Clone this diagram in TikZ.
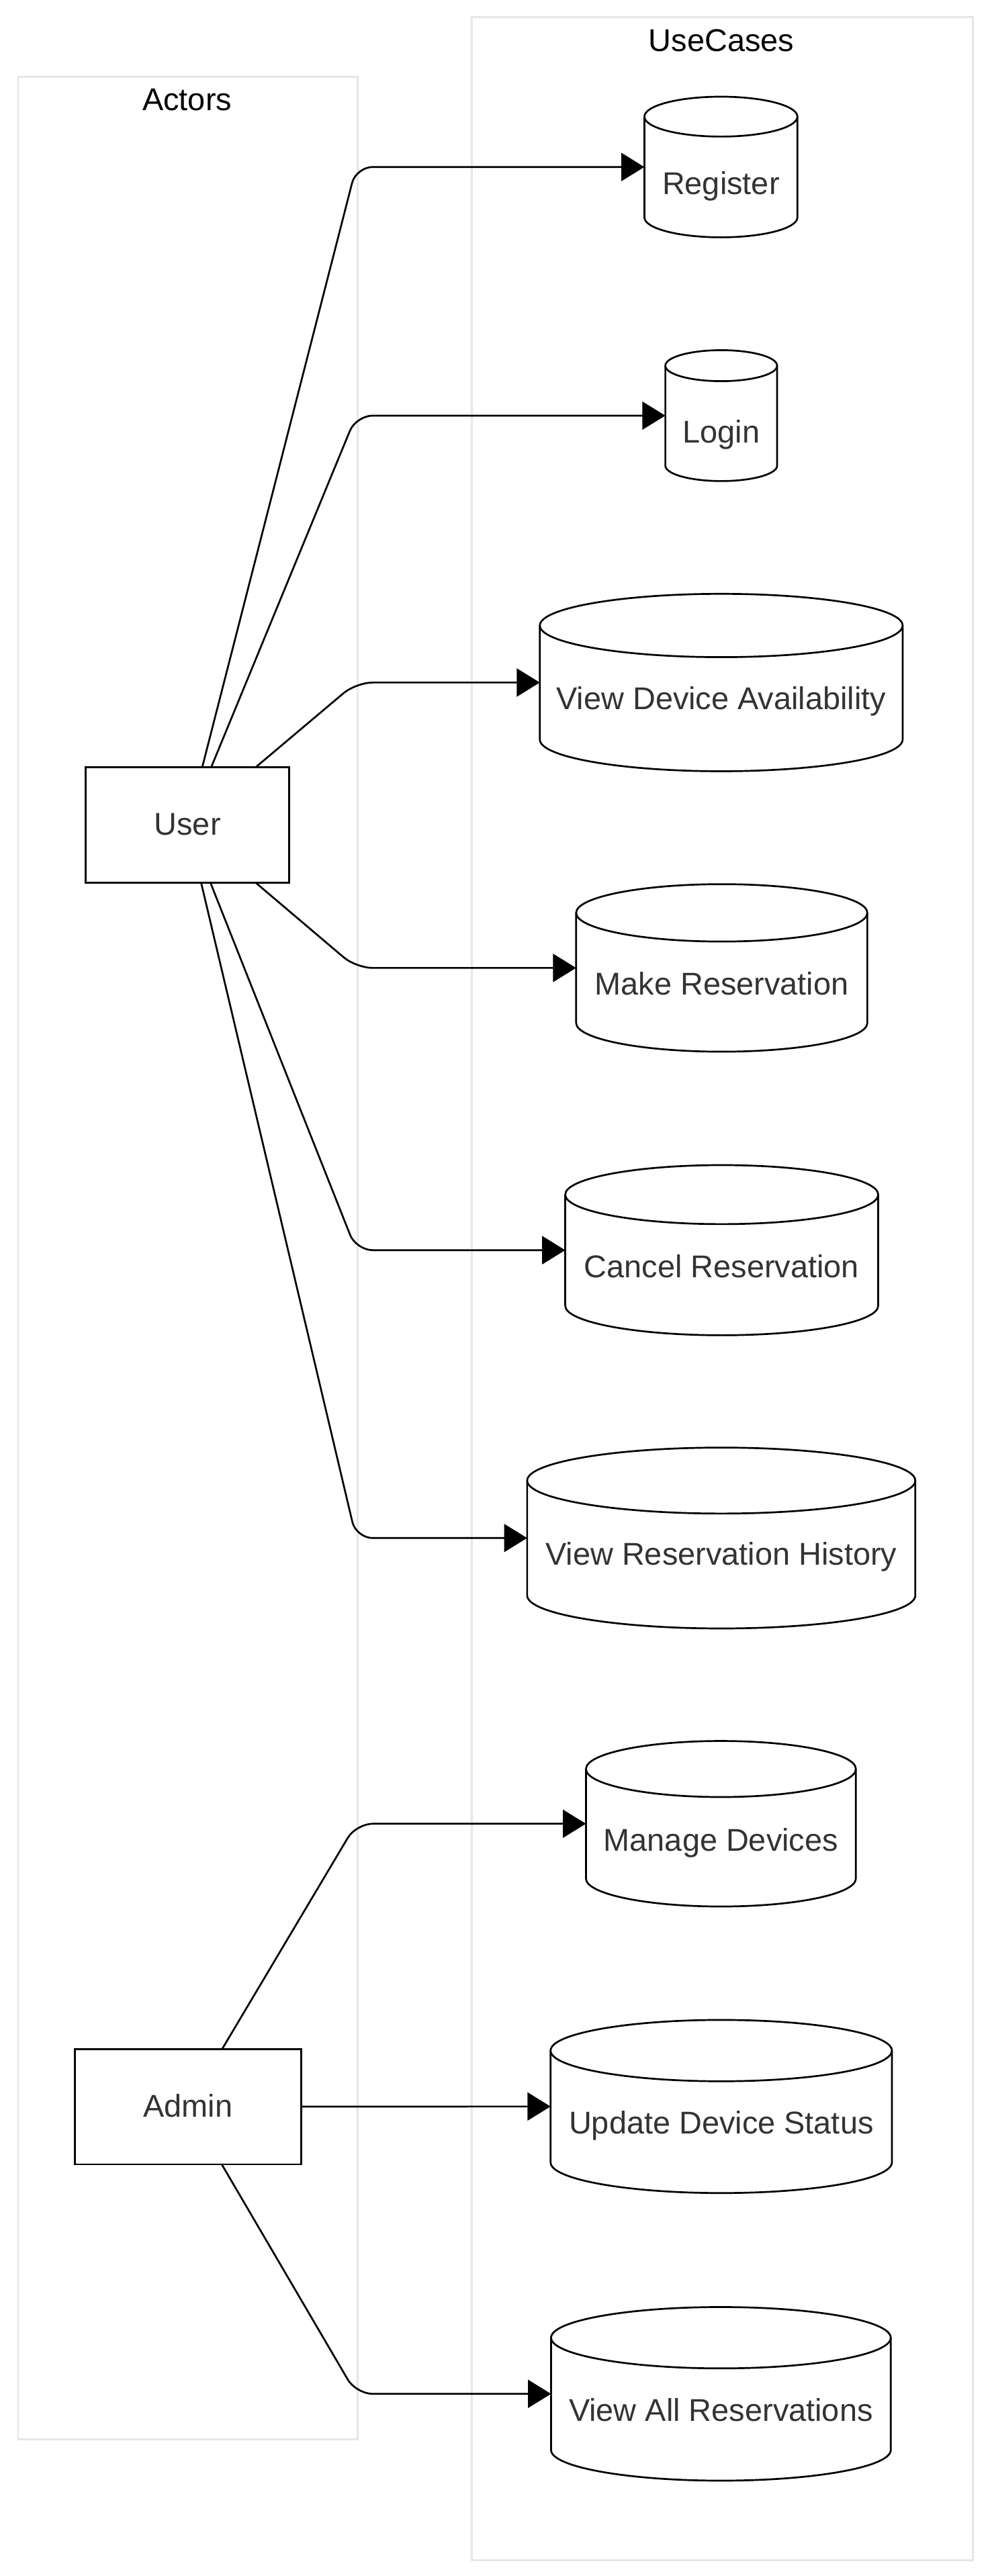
\documentclass[tikz,border=0pt]{standalone}
\usepackage{fontspec}
\setmainfont{Liberation Sans}
\usetikzlibrary{arrows.meta}

\definecolor{laneline}{HTML}{E6E6E6}
\definecolor{nodetext}{HTML}{333333}
\newcommand{\dgfont}{\fontsize{19.1pt}{23pt}\selectfont}

\tikzset{
  lane/.style={draw=laneline, line width=1.1pt},
  lanetitle/.style={font=\dgfont, text=black, inner sep=0pt, anchor=base},
  actor/.style={draw, line width=1.1pt, fill=white, inner sep=0pt, outer sep=0pt,
    font=\dgfont, text=nodetext, text height=13.8pt, text depth=1pt},
  usecase/.style={inner sep=0pt, outer sep=0pt, font=\dgfont, text=nodetext,
    text height=33pt, text depth=0pt},
  cyl/.style={draw, line width=1.1pt},
  flow/.style={draw, line width=1.1pt, rounded corners=10pt,
    -{Triangle[length=14pt, width=17pt]}},
}

\begin{document}
\begin{tikzpicture}[x=1pt, y=-1pt]
\useasboundingbox (0,0) rectangle (600,1562.5);

% lanes
\draw[lane] (11,46.5) rectangle (217,1479.5);
\node[lanetitle] (actors) at (113.5,67.2) {Actors};
\draw[lane] (286,10.5) rectangle (590,1553);
\node[lanetitle] (usecases) at (437.5,31.2) {UseCases};

% actors
\node[actor, minimum width=123.5pt, minimum height=70pt] (user) at (113.7,500.3) {User};
\node[actor, minimum width=137.3pt, minimum height=70pt] (admin) at (114,1277.8) {Admin};

% use cases: name/x/y/width/height/ellipse
\foreach \uc/\cx/\cy/\w/\h/\ry/\txt in {
  register/437.2/101.3/92.8/85.3/12.1/Register,
  login/437.4/252.1/67.8/79.4/9.4/Login,
  avail/437.4/414/220/107.6/19.2/View Device Availability,
  reserve/437.7/587.1/176.6/101.6/17.4/Make Reservation,
  cancel/437.7/758.3/189.8/103.2/17.9/Cancel Reservation,
  history/437.4/932.9/235.4/109.7/20/View Reservation History,
  devices/437.2/1106.2/163.7/100.4/17/Manage Devices,
  status/437.4/1277.7/207/105/18.6/Update Device Status,
  allres/437.2/1452/206/105.3/18.6/View All Reservations}
{
  \node[usecase, minimum width=\w pt, minimum height=\h pt] (\uc) at (\cx,\cy) {\txt};
  \draw[cyl] ([yshift=-\ry pt]\uc.north west)
    arc[start angle=180, end angle=0, x radius=\w pt/2, y radius=\ry pt]
    -- ([yshift=\ry pt]\uc.south east)
    arc[start angle=0, end angle=-180, x radius=\w pt/2, y radius=\ry pt] -- cycle;
  \draw[cyl] ([yshift=-\ry pt]\uc.north west)
    arc[start angle=180, end angle=360, x radius=\w pt/2, y radius=\ry pt];
}

% links
\coordinate (bend) at (216,0);
\draw[flow] (user) -- (bend |- register.west) -- (register.west);
\draw[flow] (user) -- (bend |- login.west) -- (login.west);
\draw[flow] (user) -- (bend |- avail.west) -- (avail.west);
\draw[flow] (user) -- (bend |- reserve.west) -- (reserve.west);
\draw[flow] (user) -- (bend |- cancel.west) -- (cancel.west);
\draw[flow] (user) -- (bend |- history.west) -- (history.west);

\draw[flow] (admin) -- (bend |- devices.west) -- (devices.west);
\draw[flow] (admin) -- (status.west);
\draw[flow] (admin) -- (bend |- allres.west) -- (allres.west);

\end{tikzpicture}
\end{document}
